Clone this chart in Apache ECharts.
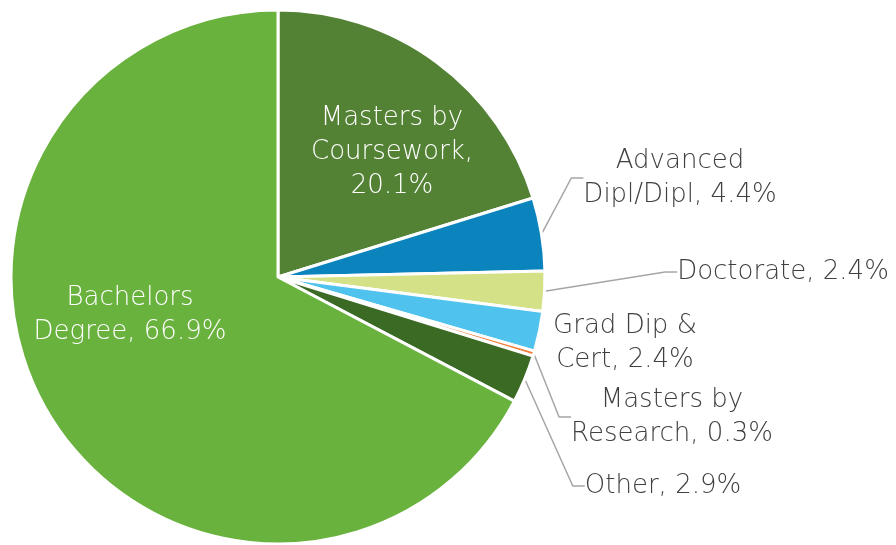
<!DOCTYPE html>
<html>
<head>
<meta charset="utf-8">
<script src="https://cdn.jsdelivr.net/npm/echarts@6/dist/echarts.min.js"></script>
<style>
  html, body { margin: 0; padding: 0; background: #fff; }
  #chart { width: 896px; height: 545px; }
</style>
</head>
<body>
<div id="chart"></div>
<script>
// Share of students by qualification level
var categories = ['Masters by Coursework', 'Advanced Dipl/Dipl', 'Doctorate', 'Grad Dip & Cert',
  'Masters by Research', 'Other', 'Bachelors Degree'];
var shares = [20.1, 4.4, 2.4, 2.4, 0.3, 2.9, 66.9];
// label text as printed on the chart (line breaks included)
var labelText = ['Masters by\nCoursework,\n20.1%', 'Advanced\nDipl/Dipl, 4.4%', 'Doctorate, 2.4%',
  'Grad Dip &\nCert, 2.4%', 'Masters by\nResearch, 0.3%', 'Other, 2.9%', 'Bachelors\nDegree, 66.9%'];

var colors = ['#548235', '#0B84BE', '#D4E186', '#4FC3EE', '#F0803A', '#3B6A24', '#6AB23E'];
var inside = [true, false, false, false, false, false, true];
var showLine = [false, true, true, false, true, true, false];
// label centres in px
var labelPos = [[392, 152], [680, 178], [783, 272], [625, 343], [672, 417], [663, 486], [130, 315]];

var myChart = echarts.init(document.getElementById('chart'));

var data = categories.map(function (name, i) {
  return {
    name: name,
    value: shares[i],
    itemStyle: { color: colors[i] },
    label: {
      position: inside[i] ? 'inside' : 'outside',
      color: inside[i] ? '#ffffff' : '#404040'
    },
    labelLine: { show: showLine[i] }
  };
});

var option = {
  animation: false,
  series: [
    {
      type: 'pie',
      center: [278, 277],
      radius: 267,
      startAngle: 90,
      clockwise: true,
      avoidLabelOverlap: false,
      itemStyle: { borderColor: '#ffffff', borderWidth: 3 },
      label: {
        fontFamily: 'DejaVu Sans',
        fontWeight: 200,
        fontSize: 26,
        lineHeight: 34,
        align: 'center',
        formatter: function (p) { return labelText[p.dataIndex]; }
      },
      labelLine: {
        lineStyle: { color: '#A6A6A6', width: 1.5 },
        length: 15,
        length2: 12
      },
      labelLayout: function (p) {
        var pos = labelPos[p.dataIndex];
        return { x: pos[0], y: pos[1], align: 'center', verticalAlign: 'middle' };
      },
      data: data
    }
  ]
};

myChart.setOption(option);
</script>
</body>
</html>
